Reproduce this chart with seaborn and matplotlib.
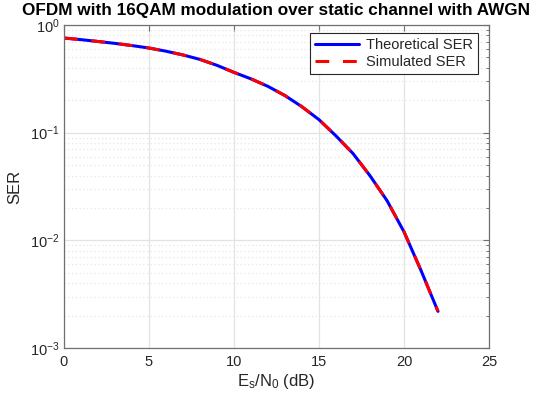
import matplotlib
matplotlib.use("Agg")
import matplotlib.pyplot as plt
import seaborn as sns
import pandas as pd
from matplotlib.ticker import LogLocator, LogFormatterMathtext, NullFormatter, MultipleLocator

esn0_db = [0, 1, 2, 3, 4, 5, 6, 7, 8, 9, 10, 11, 12, 13, 14, 15, 16, 17, 18, 19, 20, 21, 22]
ser_theory = [0.757, 0.731, 0.703, 0.675, 0.644, 0.611, 0.571, 0.527, 0.479, 0.422,
              0.363, 0.316, 0.269, 0.221, 0.174, 0.132, 0.0933, 0.0640, 0.0398, 0.0234,
              0.0120, 0.00525, 0.00219]
ser_sim = [0.757, 0.731, 0.703, 0.675, 0.644, 0.611, 0.571, 0.527, 0.479, 0.422,
           0.363, 0.316, 0.269, 0.221, 0.174, 0.132, 0.0933, 0.0640, 0.0398, 0.0234,
           0.0120, 0.00525, 0.00219]

sns.set_theme(style="white")
plt.rcParams['font.family'] = ['Liberation Sans', 'DejaVu Sans']
plt.rcParams['mathtext.fontset'] = 'custom'
plt.rcParams['mathtext.rm'] = 'Liberation Sans'
plt.rcParams['mathtext.it'] = 'Liberation Sans'

df_t = pd.DataFrame({"x": esn0_db, "y": ser_theory})
df_s = pd.DataFrame({"x": esn0_db, "y": ser_sim})

fig = plt.figure(figsize=(5.34, 4.01), dpi=100)
ax = fig.add_axes([64/534, 1-348/401, (489-64)/534, (348-25)/401])

sns.lineplot(data=df_t, x="x", y="y", ax=ax, color="#0000ff", lw=2.2, label="Theoretical SER")
sns.lineplot(data=df_s, x="x", y="y", ax=ax, color="#ff0000", lw=2.2, label="Simulated SER")
ax.lines[1].set_dashes([4.5, 4.5])

ax.set_yscale("log")
ax.set_xlim(0, 25)
ax.set_ylim(1e-3, 1)
ax.xaxis.set_major_locator(MultipleLocator(5))
ax.yaxis.set_major_locator(LogLocator(base=10, numticks=10))
ax.yaxis.set_minor_locator(LogLocator(base=10, subs=range(2, 10), numticks=20))
ax.yaxis.set_major_formatter(LogFormatterMathtext())
ax.yaxis.set_minor_formatter(NullFormatter())

ax.grid(True, which="major", axis="both", color="#e3e3e3", lw=0.9, ls="-")
ax.grid(True, which="minor", axis="y", color="#e6e6e6", lw=0.9, ls=(0, (1, 2)))
ax.set_axisbelow(True)

for s in ax.spines.values():
    s.set_color("#707070")
    s.set_linewidth(0.9)
ax.tick_params(which="both", direction="in", top=True, right=True, colors="#707070",
               labelcolor="#262626", labelsize=10.5)
ax.tick_params(which="major", length=4, width=0.8)
ax.tick_params(which="minor", length=2.2, width=0.7)
ax.tick_params(axis="x", pad=5)
ax.tick_params(axis="y", pad=3)

ax.set_xlabel(r"E$_\mathregular{s}$/N$_\mathregular{0}$ (dB)", fontsize=12, color="#262626", labelpad=2)
ax.set_ylabel("SER", fontsize=12, color="#262626", labelpad=6)
ax.set_title("OFDM with 16QAM modulation over static channel with AWGN",
             fontsize=12.3, fontweight="bold", color="black", pad=7)

leg = ax.legend(loc="upper right", bbox_to_anchor=(0.974, 0.975), fontsize=10.5,
                frameon=True, fancybox=False, borderpad=0.35, handlelength=3,
                handletextpad=0.5, labelspacing=0.2, borderaxespad=0.0)
leg.get_frame().set_edgecolor("#262626")
leg.get_frame().set_linewidth(0.8)
leg.get_frame().set_facecolor("white")
leg.get_frame().set_alpha(1)

fig.savefig("out.png", dpi=100)
